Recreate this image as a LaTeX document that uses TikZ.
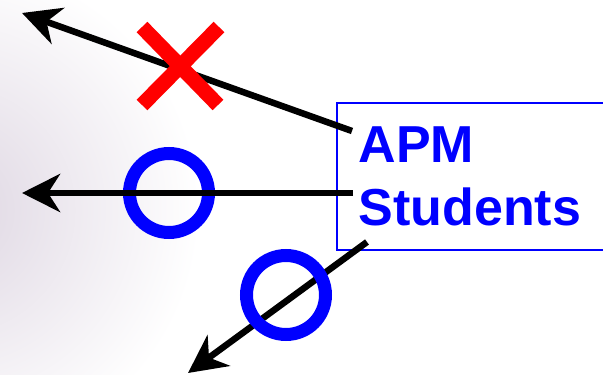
\documentclass[tikz,border=0pt]{standalone}
\usepackage{fontspec}
\setsansfont{Liberation Sans}
\usetikzlibrary{arrows.meta,positioning}
\definecolor{apmblue}{RGB}{0,0,255}
\definecolor{tint}{RGB}{222,214,226}

\begin{document}
\begin{tikzpicture}[x=1pt,y=-1pt,
shot/.style={-{Stealth[length=38pt,width=38pt,inset=12pt]},line width=6.5pt,black},
ring/.style={circle,draw=apmblue,line width=13pt,minimum size=79pt,inner sep=0pt,outer sep=0pt},
cross/.style={red,line width=15pt},
namebox/.style={draw=apmblue,line width=1.5pt,text=apmblue,
font=\sffamily\bfseries\fontsize{52}{63}\selectfont,align=left,
text width=280pt,inner xsep=22pt,inner ysep=24pt,anchor=north west}]
\useasboundingbox (0,0) rectangle (603,375);
\clip (0,0) rectangle (603,375);
\shade[inner color=tint,outer color=white] (-50,210) circle (250pt);
\node[namebox] (apm) at (336,102) {APM\\Students};
\coordinate (s1) at ([shift={(16,29)}]apm.north west);
\coordinate (s2) at ([shift={(17,91)}]apm.north west);
\coordinate (s3) at ([shift={(31,140)}]apm.north west);
\coordinate (t1) at (22,13);
\coordinate (t2) at (22,193);
\coordinate (t3) at (188,373);
\draw[shot] (s1) -- (t1);
\draw[cross] (142,27) -- (218,105) (219,27) -- (142,105);
\node[ring] (okmid) at (169,193) {};
\draw[shot] (s2) -- (t2);
\draw[shot] (s3) -- (t3);
\node[ring] (oklow) at (286,295) {};
\end{tikzpicture}
\end{document}
